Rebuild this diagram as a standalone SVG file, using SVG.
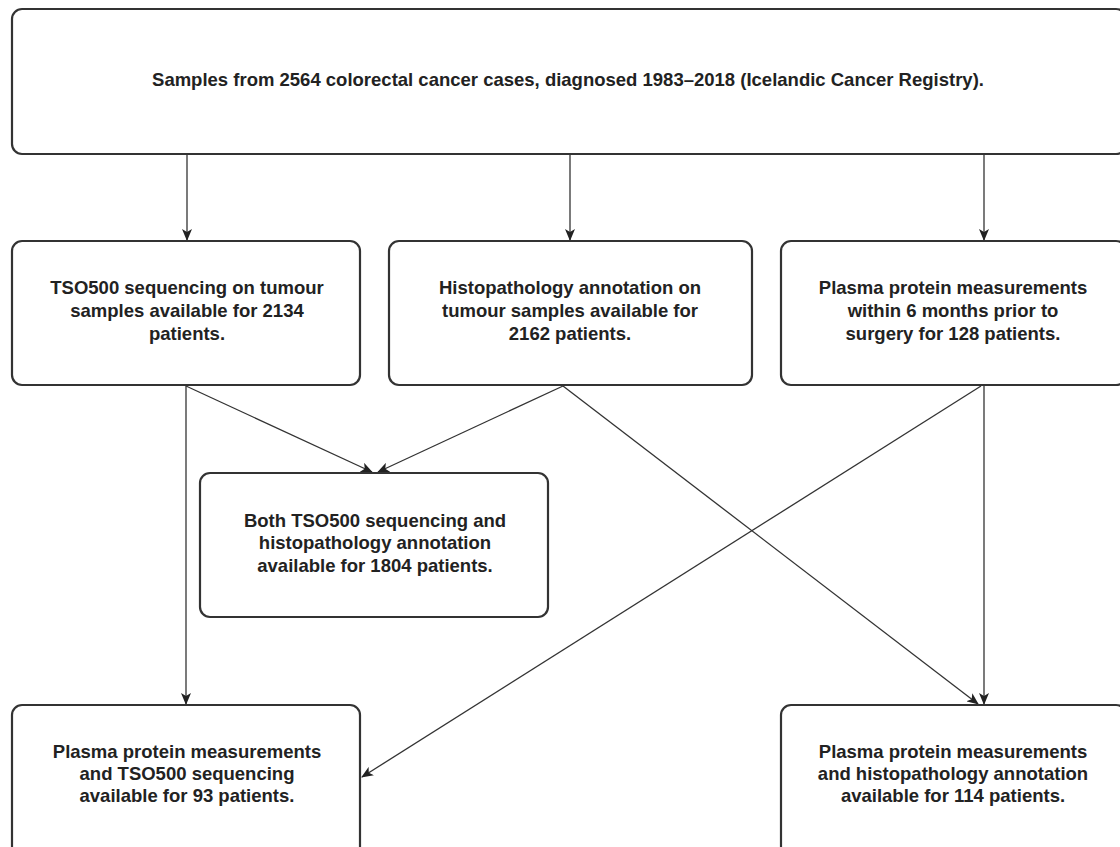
<svg xmlns="http://www.w3.org/2000/svg" width="1120" height="847" viewBox="0 0 1120 847">
<defs>
<style>
.box{fill:#fff;stroke:#333;stroke-width:2.2}
.t{font-family:"Liberation Sans",Arial,sans-serif;font-weight:bold;font-size:18.5px;fill:#222;text-anchor:middle}
.c{stroke:#333;stroke-width:1.3;fill:none;marker-end:url(#ah)}
</style>
<marker id="ah" viewBox="0 0 12 10" refX="11" refY="5" markerWidth="12" markerHeight="10" markerUnits="userSpaceOnUse" orient="auto">
<path d="M0,0 L12,5 L0,10 L3,5 z" fill="#222"/>
</marker>
</defs>
<rect width="1120" height="847" fill="#fff"/>
<g id="connectors">
<line class="c" x1="187" y1="155" x2="187" y2="240"/>
<line class="c" x1="570" y1="155" x2="570" y2="240"/>
<line class="c" x1="984" y1="155" x2="984" y2="240"/>
<line class="c" x1="186" y1="386" x2="186" y2="704"/>
<line class="c" x1="186" y1="386" x2="372" y2="472"/>
<line class="c" x1="563" y1="386" x2="378" y2="472"/>
<line class="c" x1="563" y1="386" x2="978" y2="704"/>
<line class="c" x1="984" y1="386" x2="984" y2="704"/>
<line class="c" x1="981" y1="386" x2="362" y2="777"/>
</g>
<g id="n-top">
<rect class="box" x="12" y="9" width="1114" height="145" rx="10"/>
<text class="t" x="568" y="86">Samples from 2564 colorectal cancer cases, diagnosed 1983–2018 (Icelandic Cancer Registry).</text>
</g>
<g id="n-tso">
<rect class="box" x="12" y="241" width="348" height="144" rx="10"/>
<text class="t" x="187" y="294">TSO500 sequencing on tumour</text>
<text class="t" x="187" y="317">samples available for 2134</text>
<text class="t" x="187" y="340">patients.</text>
</g>
<g id="n-histo">
<rect class="box" x="389" y="241" width="363" height="144" rx="10"/>
<text class="t" x="570" y="294">Histopathology annotation on</text>
<text class="t" x="570" y="317">tumour samples available for</text>
<text class="t" x="570" y="340">2162 patients.</text>
</g>
<g id="n-plasma">
<rect class="box" x="781" y="241" width="345" height="144" rx="10"/>
<text class="t" x="953" y="294">Plasma protein measurements</text>
<text class="t" x="953" y="317">within 6 months prior to</text>
<text class="t" x="953" y="340">surgery for 128 patients.</text>
</g>
<g id="n-both">
<rect class="box" x="200" y="473" width="348" height="144" rx="10"/>
<text class="t" x="375" y="527">Both TSO500 sequencing and</text>
<text class="t" x="375" y="549">histopathology annotation</text>
<text class="t" x="375" y="572">available for 1804 patients.</text>
</g>
<g id="n-plasma-tso">
<rect class="box" x="12" y="705" width="348" height="160" rx="10"/>
<text class="t" x="187" y="758">Plasma protein measurements</text>
<text class="t" x="187" y="780">and TSO500 sequencing</text>
<text class="t" x="187" y="802">available for 93 patients.</text>
</g>
<g id="n-plasma-histo">
<rect class="box" x="781" y="705" width="345" height="160" rx="10"/>
<text class="t" x="953" y="758">Plasma protein measurements</text>
<text class="t" x="953" y="780">and histopathology annotation</text>
<text class="t" x="953" y="802">available for 114 patients.</text>
</g>
</svg>
